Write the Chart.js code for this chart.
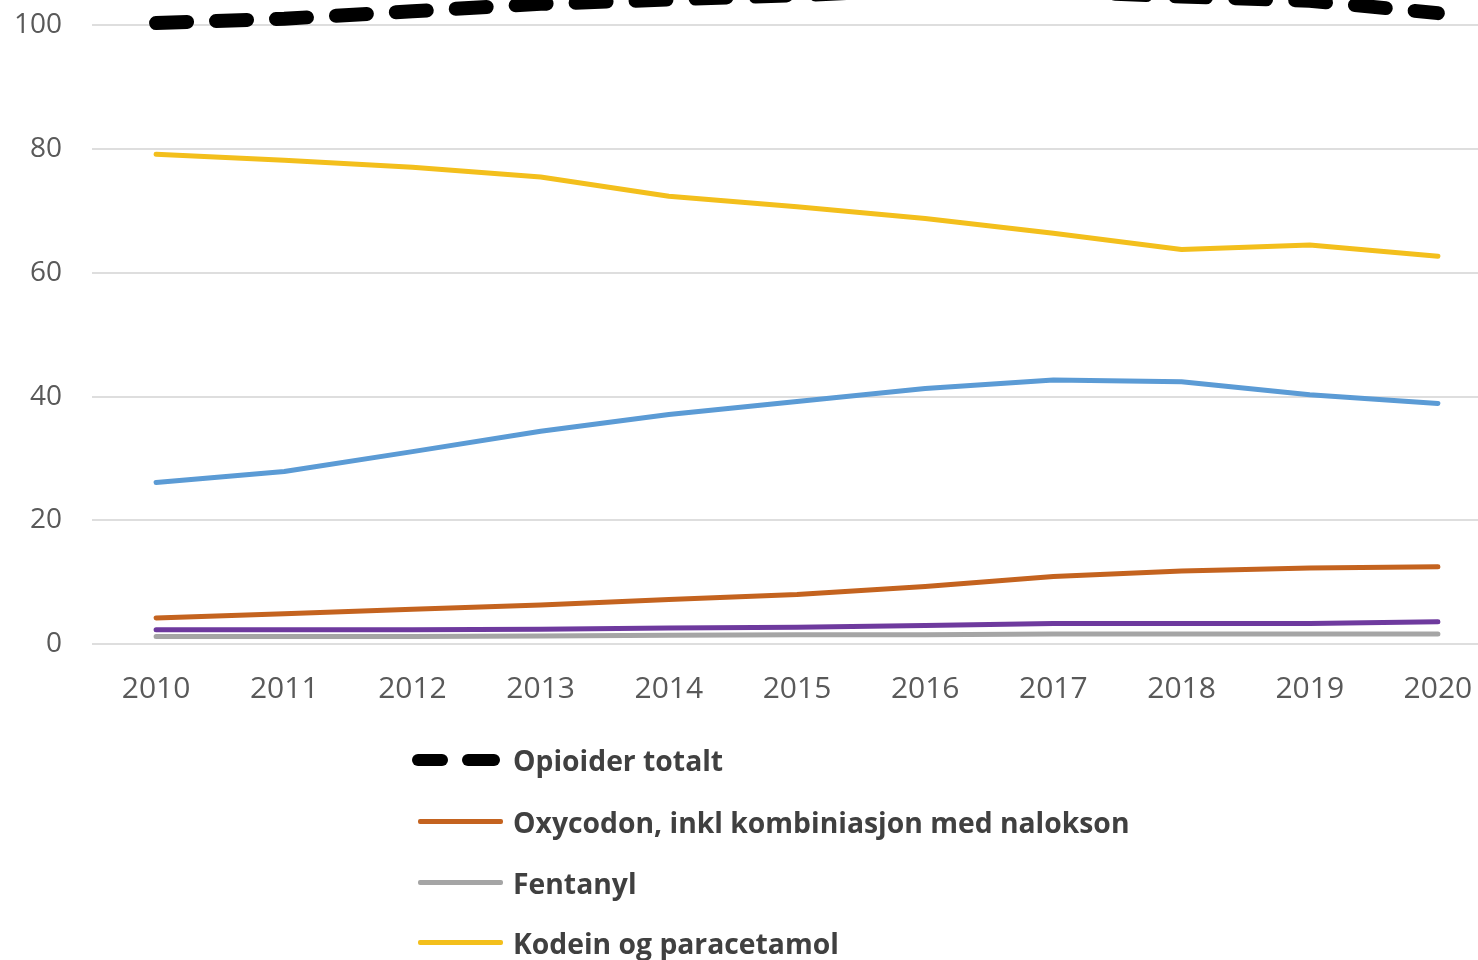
<!DOCTYPE html>
<html>
<head>
<meta charset="utf-8">
<script src="https://cdn.jsdelivr.net/npm/chart.js@4"></script>
<style>
  html, body { margin: 0; padding: 0; width: 1478px; height: 960px; overflow: hidden; background: #ffffff; }
  #wrap { position: absolute; left: 0; top: -145px; width: 1502px; height: 856px; }
  #legend { position: absolute; left: 0; top: 0; width: 1478px; height: 1200px; pointer-events: none; }
  .row { position: absolute; left: 0; height: 40px; }
  .lbl { position: absolute; left: 513px; top: 0; line-height: 40px; font-family: "Open Sans", sans-serif; font-weight: 700; font-size: 28.3px; color: #404040; white-space: nowrap; }
  .sw { position: absolute; }
</style>
</head>
<body>
<div id="wrap"><canvas id="c"></canvas></div>
<div id="legend"></div>
<script>
const years = ['2010','2011','2012','2013','2014','2015','2016','2017','2018','2019','2020'];
const opioiderTotalt = [100.4, 101.1, 102.3, 103.5, 104.2, 104.9, 105.8, 105.5, 104.7, 104.0, 102.0];
const oxycodon = [4.2, 4.9, 5.6, 6.3, 7.2, 8.0, 9.3, 10.9, 11.8, 12.3, 12.5];
const fentanyl = [1.2, 1.2, 1.2, 1.3, 1.4, 1.5, 1.5, 1.6, 1.6, 1.6, 1.6];
const kodein = [79.2, 78.2, 77.1, 75.5, 72.4, 70.7, 68.8, 66.4, 63.8, 64.5, 62.7];
const tramadol = [26.1, 27.9, 31.1, 34.4, 37.1, 39.2, 41.3, 42.7, 42.4, 40.3, 38.9];
const morfin = [2.3, 2.3, 2.3, 2.4, 2.6, 2.7, 3.0, 3.3, 3.3, 3.3, 3.6];
const seriesNames = ['Opioider totalt', 'Oxycodon, inkl kombiniasjon med nalokson', 'Fentanyl', 'Kodein og paracetamol', 'Tramadol', 'Morfin'];
const colors = ['#000000', '#C4631F', '#A5A5A5', '#F3BF1C', '#5B9BD5', '#6E3A9E'];

const seriesData = [opioiderTotalt, oxycodon, fentanyl, kodein, tramadol, morfin];
const datasets = seriesData.map((d, i) => ({
  label: seriesNames[i],
  data: d,
  borderColor: colors[i],
  backgroundColor: colors[i],
  borderWidth: i === 0 ? 14 : 5,
  borderDash: i === 0 ? [31, 29] : [],
  borderCapStyle: 'round',
  borderJoinStyle: 'round',
  pointRadius: 0,
  pointHoverRadius: 0,
  tension: 0,
  fill: false,
  order: i === 0 ? 0 : (10 - i)
}));

new Chart(document.getElementById('c'), {
  type: 'line',
  data: { labels: years, datasets },
  options: {
    responsive: true,
    maintainAspectRatio: false,
    animation: false,
    layout: { padding: { top: 19, right: 0, bottom: 0, left: 0 } },
    plugins: { legend: { display: false }, tooltip: { enabled: false } },
    scales: {
      x: {
        type: 'category',
        offset: true,
        grid: { display: false },
        border: { display: false },
        ticks: { color: '#595959', font: { family: 'Open Sans', size: 30 }, padding: 19, maxRotation: 0 },
        afterFit: (s) => { s.height = 67; }
      },
      y: {
        min: 0, max: 120,
        ticks: { stepSize: 20, color: '#595959', font: { family: 'Open Sans', size: 28 }, padding: 30 },
        grid: { color: '#DEDEDE', lineWidth: 2, drawTicks: false },
        border: { display: false },
        afterFit: (s) => { s.width = 92; }
      }
    }
  }
});

// Legend (single column, cropped like the reference)
const legend = document.getElementById('legend');
const rowCenters = [760, 822, 883, 943, 1004, 1065];
seriesNames.forEach((name, i) => {
  const row = document.createElement('div');
  row.className = 'row';
  row.style.top = (rowCenters[i] - 20) + 'px';
  row.style.width = '1478px';
  if (i === 0) {
    [[412, 36], [462, 38]].forEach(([x, w]) => {
      const d = document.createElement('div');
      d.className = 'sw';
      d.style.left = x + 'px'; d.style.top = '14px';
      d.style.width = w + 'px'; d.style.height = '12px';
      d.style.borderRadius = '6px';
      d.style.background = colors[0];
      row.appendChild(d);
    });
  } else {
    const d = document.createElement('div');
    d.className = 'sw';
    d.style.left = '418px'; d.style.top = '17px';
    d.style.width = '85px'; d.style.height = '5px';
    d.style.borderRadius = '2px';
    d.style.background = colors[i];
    row.appendChild(d);
  }
  const t = document.createElement('div');
  t.className = 'lbl';
  t.textContent = name;
  row.appendChild(t);
  legend.appendChild(row);
});
</script>
</body>
</html>
